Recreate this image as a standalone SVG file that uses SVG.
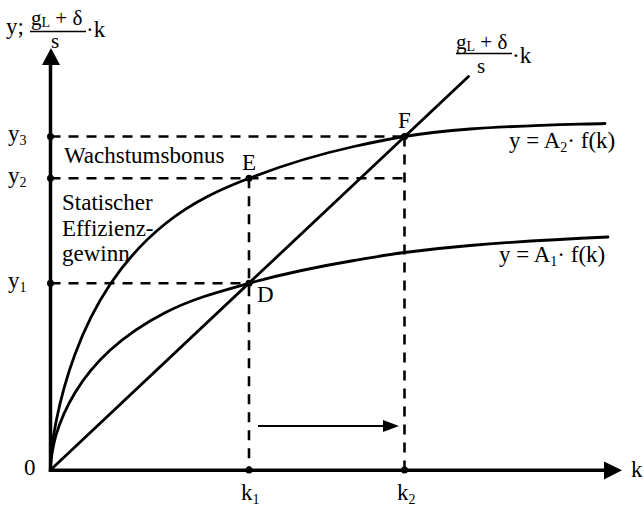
<svg xmlns="http://www.w3.org/2000/svg" width="644" height="509" viewBox="0 0 644 509">
<style>
.ax{stroke:#000;stroke-width:3.5;fill:none}
.cv{stroke:#000;stroke-width:2.8;fill:none;stroke-linejoin:round;stroke-linecap:round}
.ds{stroke:#000;stroke-width:2.6;fill:none;stroke-dasharray:10 8}
.pt{fill:#000}
text{font-family:"Liberation Serif","Times New Roman",serif;font-size:23px;fill:#000}
.fr{font-size:21px}
.sub{font-size:14px}
</style>
<rect width="644" height="509" fill="#fff"/>
<g id="dashed">
<line class="ds" x1="50.5" y1="136.5" x2="404.5" y2="136.5"/>
<line class="ds" x1="50.5" y1="178.3" x2="404.5" y2="178.3"/>
<line class="ds" x1="50.5" y1="283.3" x2="249" y2="283.3"/>
<line class="ds" x1="249" y1="178.3" x2="249" y2="470"/>
<line class="ds" x1="404.5" y1="136.5" x2="404.5" y2="470"/>
</g>
<g id="axes">
<line class="ax" x1="50.5" y1="471.7" x2="50.5" y2="62"/>
<polygon points="51,48 42,65 60,65"/>
<line class="ax" x1="48.8" y1="470.3" x2="607" y2="470.3"/>
<polygon points="622,470.3 604,461.5 604,479.5"/>
</g>
<g id="connectors">
<path id="curveA2" class="cv" d="M50.5,470 C50.5,454 54.17,431.45 56,422.1 C62.33,389.8 68.67,371.2 75,354.2 C86.67,322.8 98.33,302 110,284.5 C128.33,257 146.67,238.76 165,224 C193,201.46 221,189.14 249,178.3 C284,164.75 319,154.2 354,146.5 C370.83,142.8 387.67,139.28 404.5,136.5 C426.33,132.9 448.17,130.64 470,129 C515,125.6 560,124.85 605,123.5"/>
<path id="curveA1" class="cv" d="M50.5,470 C50.5,458 54.17,441.16 56,435.1 C62.33,414.14 68.67,403.12 75,392.7 C86.67,373.5 98.33,361 110,350.3 C128.33,333.49 146.67,322.12 165,312.7 C193,298.31 221,291.14 249,283.3 C284,273.5 319,266.45 354,260.5 C370.83,257.64 387.67,254.69 404.5,252.5 C426.33,249.66 448.17,247.36 470,245.5 C516,241.59 562,239.07 608,237"/>
<line id="lineK" class="cv" x1="50.5" y1="470" x2="468.5" y2="76.5"/>
<line id="shift" stroke="#000" stroke-width="2.2" x1="258" y1="426" x2="386" y2="426"/>
<polygon points="399,426 383,420 383,432"/>
</g>
<g id="points">
<circle class="pt" cx="50.5" cy="136.5" r="3.5"/>
<circle class="pt" cx="50.5" cy="178.3" r="3.5"/>
<circle class="pt" cx="50.5" cy="283.3" r="3.5"/>
<circle class="pt" cx="249" cy="470" r="3.5"/>
<circle class="pt" cx="404.5" cy="470" r="3.5"/>
<circle class="pt" cx="249" cy="178.3" r="3.5"/>
<circle class="pt" cx="404.5" cy="136.5" r="3.5"/>
<circle class="pt" cx="249" cy="283.3" r="3.5"/>
</g>
<g id="labels">
<text x="6" y="34">y;</text>
<text class="fr" x="31" y="25">g<tspan class="sub" dy="2">L</tspan><tspan dy="-2"> + δ</tspan></text>
<line x1="30" y1="31.5" x2="86" y2="31.5" stroke="#000" stroke-width="1.6"/>
<text class="fr" x="51" y="47.5">s</text>
<text x="86" y="37">·k</text>
<text class="fr" x="456" y="49">g<tspan class="sub" dy="2">L</tspan><tspan dy="-2"> + δ</tspan></text>
<line x1="456" y1="53.5" x2="512" y2="53.5" stroke="#000" stroke-width="1.6"/>
<text class="fr" x="477" y="72.5">s</text>
<text x="512" y="63">·k</text>
<text x="8" y="141">y<tspan class="sub" dy="4">3</tspan></text>
<text x="8" y="183">y<tspan class="sub" dy="4">2</tspan></text>
<text x="8" y="288">y<tspan class="sub" dy="4">1</tspan></text>
<text x="24" y="475">0</text>
<text x="631" y="477">k</text>
<text x="241" y="500">k<tspan class="sub" dy="4">1</tspan></text>
<text x="397" y="500">k<tspan class="sub" dy="4">2</tspan></text>
<text x="64" y="163">Wachstumsbonus</text>
<text x="62" y="210">Statischer</text>
<text x="62" y="236">Effizienz-</text>
<text x="62" y="261">gewinn</text>
<text x="242" y="170">E</text>
<text x="398" y="128">F</text>
<text x="257" y="302">D</text>
<text x="509" y="148">y = A<tspan class="sub" dy="4">2</tspan><tspan dy="-4">· f(k)</tspan></text>
<text x="499" y="262">y = A<tspan class="sub" dy="4">1</tspan><tspan dy="-4">· f(k)</tspan></text>
</g>
</svg>
